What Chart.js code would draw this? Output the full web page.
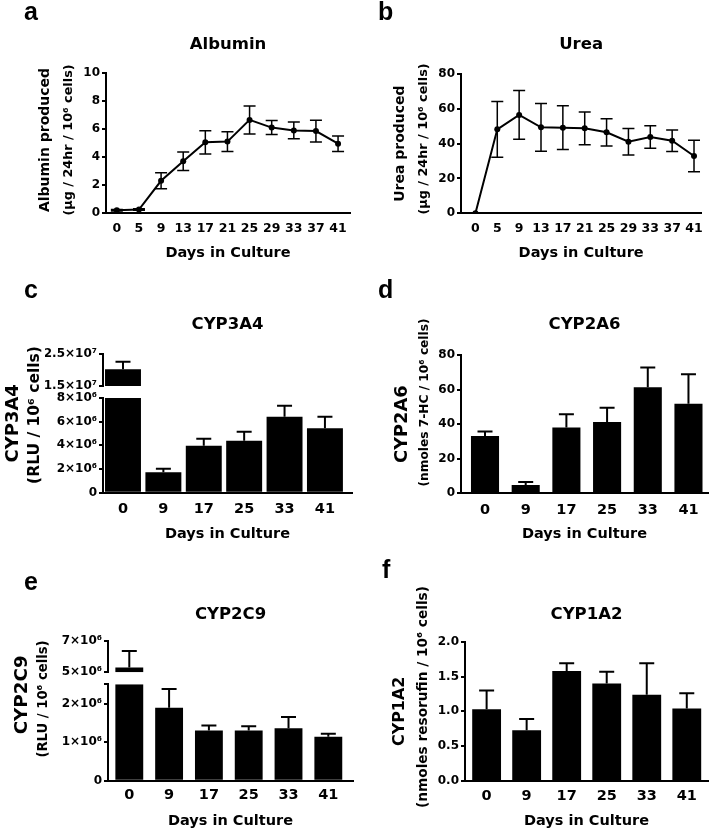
<!DOCTYPE html>
<html>
<head>
<meta charset="utf-8">
<title>Hepatocyte function in culture</title>
<script src="https://cdn.jsdelivr.net/npm/chart.js@4.4.1/dist/chart.umd.min.js"></script>
<style>
  html, body { margin: 0; padding: 0; background: #fff; }
  #figure { position: relative; width: 711px; height: 831px; overflow: hidden; }
  .panel { position: absolute; }
  .tag { position: absolute; font: bold 25px "Liberation Sans", Arial, sans-serif; line-height: 25px; color: #000; }
</style>
</head>
<body>
<div id="figure">
  <canvas id="panelA" class="panel" width="355" height="275" style="left:0;top:0"></canvas>
  <canvas id="panelB" class="panel" width="356" height="275" style="left:355px;top:0"></canvas>
  <canvas id="panelC" class="panel" width="355" height="275" style="left:0;top:275px"></canvas>
  <canvas id="panelD" class="panel" width="356" height="275" style="left:355px;top:275px"></canvas>
  <canvas id="panelE" class="panel" width="355" height="281" style="left:0;top:550px"></canvas>
  <canvas id="panelF" class="panel" width="356" height="281" style="left:355px;top:550px"></canvas>
  <div class="tag" style="left:24px;top:-1px">a</div>
  <div class="tag" style="left:378px;top:-1px">b</div>
  <div class="tag" style="left:24px;top:277px">c</div>
  <div class="tag" style="left:378px;top:277px">d</div>
  <div class="tag" style="left:24px;top:569px">e</div>
  <div class="tag" style="left:382px;top:557px">f</div>
</div>
<script>
const INK = '#000';
const FONT = "'DejaVu Sans', 'Liberation Sans', sans-serif";
Chart.defaults.font.family = FONT;

// days in culture
const DAYS_TIME = ['0', '5', '9', '13', '17', '21', '25', '29', '33', '37', '41'];
const DAYS_CYP = ['0', '9', '17', '25', '33', '41'];

// a - albumin (mean, SD)
const ALBUMIN = [0.2, 0.25, 2.3, 3.7, 5.05, 5.1, 6.65, 6.1, 5.9, 5.85, 4.95];
const ALBUMIN_SD = [0.05, 0.05, 0.57, 0.66, 0.83, 0.7, 1.0, 0.5, 0.6, 0.78, 0.55];
// b - urea
const UREA = [0, 48.2, 56.5, 49.4, 49.2, 48.8, 46.5, 41.1, 43.8, 41.7, 32.9];
const UREA_SD = [0, 16, 14, 13.7, 12.6, 9.4, 7.8, 7.6, 6.5, 6.2, 9.1];
// c - CYP3A4
const CYP3A4 = [2.02e7, 1.72e6, 3.97e6, 4.39e6, 6.42e6, 5.44e6];
const CYP3A4_SD = [2.4e6, 0.31e6, 0.59e6, 0.76e6, 0.93e6, 0.98e6];
// d - CYP2A6
const CYP2A6 = [33.1, 4.8, 38.0, 41.2, 61.3, 51.8];
const CYP2A6_SD = [2.7, 1.8, 7.7, 8.3, 11.5, 17.0];
// e - CYP2C9
const CYP2C9 = [5.3e6, 1.89e6, 1.30e6, 1.30e6, 1.36e6, 1.14e6];
const CYP2C9_SD = [1.06e6, 0.49e6, 0.13e6, 0.11e6, 0.29e6, 0.08e6];
// f - CYP1A2
const CYP1A2 = [1.03, 0.73, 1.58, 1.40, 1.24, 1.04];
const CYP1A2_SD = [0.27, 0.16, 0.11, 0.17, 0.45, 0.22];

// y ticks
const TICKS_ALB = [0, 2, 4, 6, 8, 10];
const TICKS_UREA = [0, 20, 40, 60, 80];
const TICKS_3A4_HIGH = [1.5e7, 2.5e7];
const LABELS_3A4_HIGH = ['1.5×10⁷', '2.5×10⁷'];
const TICKS_3A4_LOW = [0, 2e6, 4e6, 6e6, 8e6];
const LABELS_3A4_LOW = ['0', '2×10⁶', '4×10⁶', '6×10⁶', '8×10⁶'];
const TICKS_2A6 = [0, 20, 40, 60, 80];
const TICKS_2C9_HIGH = [5e6, 7e6];
const LABELS_2C9_HIGH = ['5×10⁶', '7×10⁶'];
const TICKS_2C9_LOW = [0, 1e6, 2e6, 2.5e6];
const LABELS_2C9_LOW = ['0', '1×10⁶', '2×10⁶', ''];
const TICKS_1A2 = [0, 0.5, 1, 1.5, 2];
const LABELS_1A2 = ['0.0', '0.5', '1.0', '1.5', '2.0'];

// keep bars of a broken axis inside their own segment
const segmentClip = {
  id: 'segmentClip',
  beforeDatasetDraw(chart, args) {
    const ds = chart.data.datasets[args.index];
    if (!ds.clipToScale) return;
    const ys = chart.scales[ds.yAxisID];
    const { ctx, chartArea } = chart;
    ctx.save();
    ctx.beginPath();
    ctx.rect(chartArea.left, ys.top, chartArea.width, ys.height);
    ctx.clip();
  },
  afterDatasetDraw(chart, args) {
    if (chart.data.datasets[args.index].clipToScale) chart.ctx.restore();
  }
};

// mean +/- SD whiskers
const errorBars = {
  id: 'errorBars',
  afterDatasetsDraw(chart) {
    const { ctx, chartArea } = chart;
    chart.data.datasets.forEach((ds, di) => {
      if (!ds.errors) return;
      const meta = chart.getDatasetMeta(di);
      const ys = chart.scales[ds.yAxisID];
      ctx.save();
      if (ds.clipToScale) {
        ctx.beginPath();
        ctx.rect(chartArea.left - 20, ys.top - 1, chartArea.width + 40, ys.height + 1);
        ctx.clip();
      }
      ctx.strokeStyle = INK;
      ctx.lineWidth = ds.errorWidth;
      const half = ds.capWidth / 2;
      meta.data.forEach((el, i) => {
        const v = ds.data[i].y, e = ds.errors[i];
        if (!e) return;
        const hi = ys.getPixelForValue(v + e);
        const lo = ys.getPixelForValue(ds.upOnly ? v : v - e);
        ctx.beginPath();
        ctx.moveTo(el.x, lo); ctx.lineTo(el.x, hi);
        ctx.moveTo(el.x - half, hi); ctx.lineTo(el.x + half, hi);
        if (!ds.upOnly) { ctx.moveTo(el.x - half, lo); ctx.lineTo(el.x + half, lo); }
        ctx.stroke();
      });
      ctx.restore();
    });
  }
};

function buildPanel(canvasId, p) {
  const canvas = document.getElementById(canvasId);
  const W = canvas.width, H = canvas.height;
  const A = p.area;
  const plotH = A.bottom - A.top;
  const scales = {};

  // two axis-title lanes on the left (first line bigger than the second)
  const [t1, t2] = p.yTitles;
  const b1 = (t1.mid + t2.mid) / 2;
  const b2 = t2.mid + t2.size * 0.6 + 1;
  [[t1, 0, b1], [t2, b1, b2]].forEach(([t, l, r], i) => {
    const base = {
      type: 'linear', position: 'left', weight: 10 - i, min: 0, max: 1,
      grid: { display: false }, border: { display: false }, ticks: { display: false },
      afterFit: s => { s.width = r - l; }
    };
    const lane = Object.assign({}, base, {
      fullSize: !!t.full,
      title: {
        display: true, text: t.text, color: INK,
        font: { family: FONT, size: t.size, weight: 'bold', lineHeight: 1.2 },
        padding: { top: t.mid - l - t.size * 0.6, bottom: 0 }
      }
    });
    const shift = t.shift || 0;
    if (!shift) { scales['title' + i] = lane; return; }
    const pad = Object.assign({}, base, { stack: 'lane' + i, stackWeight: 2 * Math.abs(shift) });
    lane.stack = 'lane' + i;
    lane.stackWeight = plotH - 2 * Math.abs(shift);
    if (shift < 0) { scales['pad' + i] = pad; scales['title' + i] = lane; }
    else { scales['title' + i] = lane; scales['pad' + i] = pad; }
  });

  // value axis, possibly broken into segments (listed top to bottom)
  const axisW = A.left - b2;
  const broken = p.segments.length > 1;
  const defs = [];
  p.segments.forEach((sg, i) => {
    const id = broken ? 'seg' + i : 'y';
    sg.id = id;
    const sc = {
      type: 'linear', position: 'left', min: sg.min, max: sg.max,
      afterBuildTicks: s => { s.ticks = sg.ticks.map(v => ({ value: v })); },
      afterFit: s => { s.width = axisW; },
      grid: { display: true, drawOnChartArea: false, drawTicks: true, tickLength: 4, lineWidth: 2, color: INK, tickColor: INK },
      border: { display: true, width: 2, color: INK },
      ticks: {
        autoSkip: false, padding: 2, color: INK,
        font: { family: FONT, size: 12, weight: 'bold' },
        callback: (v, k) => (sg.labels ? sg.labels[k] : String(v))
      }
    };
    if (broken) { sc.stack = 'value'; sc.stackWeight = sg.px; }
    defs.push([id, sc]);
    if (broken && i < p.segments.length - 1) {
      defs.push(['gap' + i, {
        type: 'linear', position: 'left', min: 0, max: 1, stack: 'value', stackWeight: p.gap,
        grid: { display: false }, border: { display: false }, ticks: { display: false },
        afterFit: s => { s.width = axisW; }
      }]);
    }
  });
  defs.reverse().forEach(([k, v]) => { scales[k] = v; });

  // days axis
  const xH = H - p.pad.bottom - A.bottom;
  scales.x = {
    type: 'linear', position: 'bottom', min: p.xMin, max: p.xMax, offset: false,
    afterBuildTicks: s => { s.ticks = p.days.map((d, i) => ({ value: i })); },
    afterFit: s => { s.height = xH; },
    grid: { display: false, drawTicks: false, offset: false },
    border: { display: true, width: 2, color: INK },
    ticks: {
      autoSkip: false, maxRotation: 0, padding: p.xTickPad, color: INK,
      font: { family: FONT, size: p.xTickSize, weight: 'bold' },
      callback: (v, i) => p.days[i]
    },
    title: {
      display: true, text: 'Days in Culture', color: INK,
      font: { family: FONT, size: 14.5, weight: 'bold', lineHeight: 1.2 },
      padding: { top: 0, bottom: (H - p.pad.bottom) - p.xTitleY - 14.5 * 0.6 }
    }
  };

  const isBar = p.kind === 'bar';
  const datasets = p.segments.map(sg => ({
    type: p.kind, xAxisID: 'x', yAxisID: sg.id,
    data: p.values.map((v, i) => ({ x: i, y: v })),
    errors: p.errors, upOnly: isBar, clipToScale: broken,
    capWidth: isBar ? 15 : 12, errorWidth: isBar ? 2 : 1.5,
    backgroundColor: INK, borderColor: INK, borderWidth: isBar ? 0 : 2,
    pointRadius: 3, pointBackgroundColor: INK, pointBorderWidth: 0,
    barPercentage: p.barRatio || 0.8, categoryPercentage: 1, grouped: false
  }));

  new Chart(canvas, {
    type: p.kind,
    data: { datasets },
    options: {
      responsive: false, animation: false, events: [], devicePixelRatio: 1,
      layout: { padding: { left: 0, top: p.pad.top, right: W - A.right, bottom: p.pad.bottom } },
      plugins: {
        legend: { display: false },
        tooltip: { enabled: false },
        title: {
          display: true, text: p.title, color: INK, fullSize: false, align: 'center',
          font: { family: FONT, size: 16.5, weight: 'bold', lineHeight: 1.2 },
          padding: { top: p.titleY - p.pad.top - 9.9, bottom: A.top - p.titleY - 9.9 }
        }
      },
      scales
    },
    plugins: [segmentClip, errorBars]
  });
}

buildPanel('panelA', {
  kind: 'line', title: 'Albumin', titleY: 45,
  area: { left: 106, right: 352, top: 73, bottom: 213 }, pad: { top: 5, bottom: 0 },
  yTitles: [
    { text: 'Albumin produced', size: 14, mid: 45.2, full: true },
    { text: '(µg / 24hr / 10⁶ cells)', size: 12.8, mid: 68.5, full: true }
  ],
  days: DAYS_TIME, xMin: -0.49, xMax: 10.54, xTickSize: 12.5, xTickPad: 8, xTitleY: 253,
  segments: [{ min: 0, max: 10, ticks: TICKS_ALB }],
  values: ALBUMIN, errors: ALBUMIN_SD
});

buildPanel('panelB', {
  kind: 'line', title: 'Urea', titleY: 45,
  area: { left: 106, right: 350, top: 74, bottom: 213.3 }, pad: { top: 3, bottom: 0 },
  yTitles: [
    { text: 'Urea produced', size: 14, mid: 45.5 },
    { text: '(µg / 24hr / 10⁶ cells)', size: 12.8, mid: 68.5, full: true }
  ],
  days: DAYS_TIME, xMin: -0.66, xMax: 10.33, xTickSize: 12.5, xTickPad: 8, xTitleY: 253,
  segments: [{ min: 0, max: 80, ticks: TICKS_UREA }],
  values: UREA, errors: UREA_SD
});

buildPanel('panelC', {
  kind: 'bar', title: 'CYP3A4', titleY: 50,
  area: { left: 103, right: 352, top: 79, bottom: 217.7 }, pad: { top: 5, bottom: 0 },
  yTitles: [
    { text: 'CYP3A4', size: 18, mid: 13.8 },
    { text: '(RLU / 10⁶ cells)', size: 15.5, mid: 34.6, full: true }
  ],
  days: DAYS_CYP, xMin: -0.495, xMax: 5.67, xTickSize: 14.5, xTickPad: 8, xTitleY: 259,
  segments: [
    { min: 1.5e7, max: 2.5e7, ticks: TICKS_3A4_HIGH, labels: LABELS_3A4_HIGH, px: 32 },
    { min: 0, max: 8e6, ticks: TICKS_3A4_LOW, labels: LABELS_3A4_LOW, px: 94.7 }
  ],
  gap: 12, barRatio: 0.89,
  values: CYP3A4, errors: CYP3A4_SD
});

buildPanel('panelD', {
  kind: 'bar', title: 'CYP2A6', titleY: 50,
  area: { left: 106, right: 353, top: 80, bottom: 218.3 }, pad: { top: 0, bottom: 20 },
  yTitles: [
    { text: 'CYP2A6', size: 17.8, mid: 47.1 },
    { text: '(nmoles 7-HC / 10⁶ cells)', size: 12.2, mid: 70.3, full: true }
  ],
  days: DAYS_CYP, xMin: -0.59, xMax: 5.48, xTickSize: 14.5, xTickPad: 8, xTitleY: 259,
  segments: [{ min: 0, max: 80, ticks: TICKS_2A6 }],
  barRatio: 0.69,
  values: CYP2A6, errors: CYP2A6_SD
});

buildPanel('panelE', {
  kind: 'bar', title: 'CYP2C9', titleY: 65,
  area: { left: 108, right: 353, top: 91, bottom: 230.7 }, pad: { top: 17, bottom: 0 },
  yTitles: [
    { text: 'CYP2C9', size: 18.3, mid: 22, shift: -16 },
    { text: '(RLU / 10⁶ cells)', size: 13.2, mid: 43.4, full: true }
  ],
  days: DAYS_CYP, xMin: -0.535, xMax: 5.62, xTickSize: 14.5, xTickPad: 6.3, xTitleY: 271.7,
  segments: [
    { min: 5e6, max: 7e6, ticks: TICKS_2C9_HIGH, labels: LABELS_2C9_HIGH, px: 31.3 },
    { min: 0, max: 2.5e6, ticks: TICKS_2C9_LOW, labels: LABELS_2C9_LOW, px: 96.4 }
  ],
  gap: 12, barRatio: 0.70,
  values: CYP2C9, errors: CYP2C9_SD
});

buildPanel('panelF', {
  kind: 'bar', title: 'CYP1A2', titleY: 65,
  area: { left: 110, right: 353, top: 91.7, bottom: 231 }, pad: { top: 13, bottom: 0 },
  yTitles: [
    { text: 'CYP1A2', size: 15.9, mid: 44.5 },
    { text: '(nmoles resorufin / 10⁶ cells)', size: 13.7, mid: 68.3, full: true }
  ],
  days: DAYS_CYP, xMin: -0.54, xMax: 5.53, xTickSize: 14.5, xTickPad: 6.3, xTitleY: 271.7,
  segments: [{ min: 0, max: 2, ticks: TICKS_1A2, labels: LABELS_1A2 }],
  barRatio: 0.72,
  values: CYP1A2, errors: CYP1A2_SD
});
</script>
</body>
</html>
